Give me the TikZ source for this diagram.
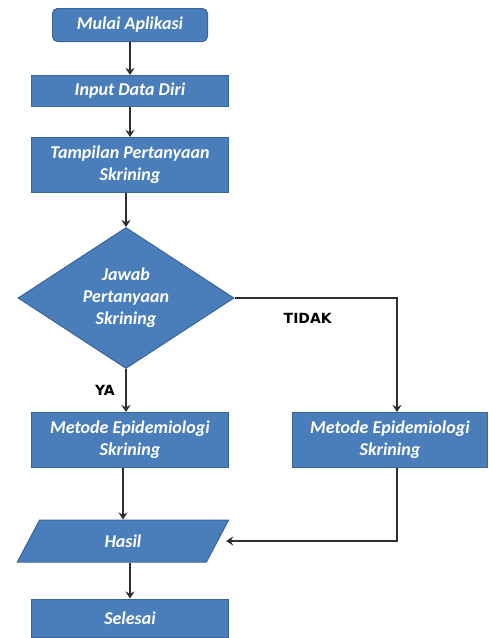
\documentclass[tikz,border=0pt]{standalone}
\usepackage{fontspec}
\newfontfamily\boxfont{Carlito}
\newfontfamily\labelfont{DejaVu Sans}
\usepackage{xcolor}
\usepackage{tikz}
\usetikzlibrary{arrows.meta,shapes.geometric}
\definecolor{boxblue}{HTML}{4A7EBB}
\definecolor{boxedge}{HTML}{3A659A}
\definecolor{lineclr}{HTML}{2E2E2E}

\begin{document}
\begin{tikzpicture}[x=1pt,y=-1pt,
  box/.style={draw=boxedge,fill=boxblue,line width=1pt,minimum width=197pt,
              minimum height=31pt,align=center,text=white,inner sep=0pt,
              font=\boxfont\bfseries\itshape\fontsize{18}{22}\selectfont},
  arr/.style={-{Stealth[length=7pt,width=9pt]},line width=2.5pt,draw=lineclr},
  lbl/.style={inner sep=0pt,font=\labelfont\bfseries\fontsize{14}{16}\selectfont}]

  \path[use as bounding box,fill=white] (0,0) rectangle (488,638);

  \node[box,rounded corners=5pt,minimum width=155pt,minimum height=33pt] (mulai) at (130,25) {Mulai Aplikasi};
  \node[box] (input) at (130,91) {Input Data Diri};
  \node[box,minimum height=55pt] (tampil) at (130,165) {Tampilan Pertanyaan\\Skrining};

  \node[box,diamond,aspect=1.53,minimum width=216pt,minimum height=141pt] (jawab) at (126,298)
    {Jawab\\Pertanyaan\\Skrining};

  \node[box,minimum height=55pt] (metodeya) at (130,440) {Metode Epidemiologi\\Skrining};
  \node[box,minimum width=195pt,minimum height=55pt] (metodetidak) at (390,440) {Metode Epidemiologi\\Skrining};

  \node[box,trapezium,trapezium left angle=69,trapezium right angle=111,trapezium stretches=true,
        minimum width=212pt,minimum height=42pt] (hasil) at (123,541) {Hasil};
  \node[box,minimum height=38pt] (selesai) at (130,618) {Selesai};

  \draw[arr] (mulai) -- (input);
  \draw[arr] (input) -- (tampil);
  \draw[arr] (jawab.north |- tampil.south) -- (jawab.north);
  \draw[arr] (jawab.south) -- (jawab.south |- metodeya.north)
    node[lbl,midway,left=10pt] (ya) {YA};
  \draw[arr] (jawab.east) -| ([xshift=7pt]metodetidak.north)
    node[lbl,pos=0.25,below=14pt,xshift=-8pt] (tidak) {TIDAK};
  \draw[arr] (hasil.north |- metodeya.south) -- (hasil.north);
  \draw[arr] ([xshift=7pt]metodetidak.south) |- ([xshift=8pt]hasil.east);
  \draw[arr] (selesai.north |- hasil.south) -- (selesai.north);

\end{tikzpicture}
\end{document}
